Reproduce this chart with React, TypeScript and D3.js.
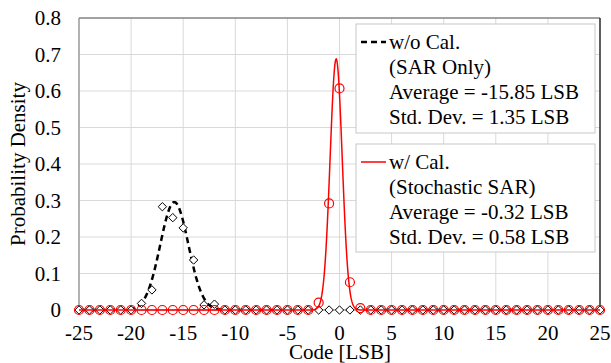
import React from "react";
import * as d3 from "d3";

const codes: number[] = d3.range(-25, 26);
const woCalPoints: number[] = [
  0, 0, 0, 0, 0, 0, 0.018, 0.055, 0.283, 0.253, 0.225, 0.137, 0.014, 0.016, 0, 0,
  0, 0, 0, 0, 0, 0, 0, 0, 0, 0, 0, 0, 0, 0, 0, 0, 0, 0, 0, 0, 0, 0, 0, 0, 0, 0, 0, 0, 0, 0, 0, 0, 0, 0, 0,
];
const wCalPoints: number[] = [
  0, 0, 0, 0, 0, 0, 0, 0, 0, 0, 0, 0, 0, 0, 0, 0, 0, 0, 0, 0, 0, 0, 0,
  0.02, 0.292, 0.607, 0.076, 0.005,
  0, 0, 0, 0, 0, 0, 0, 0, 0, 0, 0, 0, 0, 0, 0, 0, 0, 0, 0, 0, 0, 0, 0,
];
// Gaussian fit parameters (from legend)
const woCalMean = -15.85;
const woCalStd = 1.35;
const wCalMean = -0.32;
const wCalStd = 0.58;

const xTicks: number[] = [-25, -20, -15, -10, -5, 0, 5, 10, 15, 20, 25];
const yTicks: number[] = [0, 0.1, 0.2, 0.3, 0.4, 0.5, 0.6, 0.7, 0.8];
const legend1: string[] = ["w/o Cal.", "(SAR Only)", "Average = -15.85 LSB", "Std. Dev. = 1.35 LSB"];
const legend2: string[] = ["w/ Cal.", "(Stochastic SAR)", "Average = -0.32 LSB", "Std. Dev. = 0.58 LSB"];

const W = 611, H = 363;
const L = 79, R = 600, T = 18, B = 310;
const FONT = "Liberation Serif, Times New Roman, serif";

function gauss(x: number, m: number, s: number) {
  return Math.exp(-0.5 * ((x - m) / s) ** 2) / (s * Math.sqrt(2 * Math.PI));
}

export default function App() {
  const x = d3.scaleLinear().domain([-25, 25]).range([L, R]);
  const y = d3.scaleLinear().domain([0, 0.8]).range([B, T]);
  const fine = d3.range(-25, 25.001, 0.05);
  const line = d3.line<[number, number]>().x((d) => x(d[0])).y((d) => y(d[1]));
  const woCurve = line(fine.map((c) => [c, gauss(c, woCalMean, woCalStd)] as [number, number])) || "";
  const wCurve = line(fine.map((c) => [c, gauss(c, wCalMean, wCalStd)] as [number, number])) || "";
  const fs = 21;
  const ts: React.CSSProperties = { fontFamily: FONT, fontSize: fs };

  const legendBox = (y0: number, y1: number, lines: string[], red: boolean) => (
    <g>
      <rect x={356} y={y0} width={239} height={y1 - y0} fill="#fff" stroke="#c8c8c8" strokeWidth={1} />
      {red ? (
        <line x1={361} x2={386} y1={y0 + 18} y2={y0 + 18} stroke="#ff0000" strokeWidth={1.5} />
      ) : (
        <line x1={361} x2={386} y1={y0 + 18} y2={y0 + 18} stroke="#000" strokeWidth={2.5} strokeDasharray="6,4" />
      )}
      {lines.map((t, i) => (
        <text key={i} x={389} y={y0 + 18 + i * 25} dy="0.35em" style={ts} fill="#000">
          {t}
        </text>
      ))}
    </g>
  );

  return (
    <svg width={W} height={H} style={{ position: "absolute", left: 0, top: 0, background: "#fff" }}>
      <rect x={0} y={0} width={W} height={H} fill="#fff" />
      {xTicks.map((t) => (
        <line key={"gx" + t} x1={x(t)} x2={x(t)} y1={T} y2={B} stroke="#d9d9d9" strokeWidth={1} />
      ))}
      {yTicks.map((t) => (
        <line key={"gy" + t} x1={L} x2={R} y1={y(t)} y2={y(t)} stroke="#d9d9d9" strokeWidth={1} />
      ))}
      <line x1={L} x2={R} y1={T} y2={T} stroke="#595959" strokeWidth={1.2} />
      <line x1={R} x2={R} y1={T} y2={B} stroke="#000" strokeWidth={1.2} />
      <line x1={L} x2={L} y1={T} y2={B} stroke="#8c8c8c" strokeWidth={1.2} />
      <line x1={L} x2={R} y1={B} y2={B} stroke="#8c8c8c" strokeWidth={1} />
      {yTicks.map((t) => (
        <text key={"ty" + t} x={61} y={y(t)} dy="0.35em" textAnchor="end" style={ts}>
          {t === 0 ? "0" : t.toFixed(1)}
        </text>
      ))}
      {xTicks.map((t) => (
        <text key={"tx" + t} x={x(t)} y={333} dy="0.35em" textAnchor="middle" style={ts}>
          {t}
        </text>
      ))}
      <text x={340} y={352} dy="0.35em" textAnchor="middle" style={ts}>
        Code [LSB]
      </text>
      <text transform={`translate(18,${(T + B) / 2}) rotate(-90)`} dy="0.35em" textAnchor="middle" style={ts}>
        Probability Density
      </text>
      <path d={woCurve} fill="none" stroke="#000" strokeWidth={2.5} strokeDasharray="6,4" />
      {codes.map((c, i) => {
        const cx = x(c), cy = y(woCalPoints[i]);
        const r = 4.2;
        return (
          <path
            key={"d" + c}
            d={`M${cx},${cy - r}L${cx + r},${cy}L${cx},${cy + r}L${cx - r},${cy}Z`}
            fill="#fff"
            stroke="#000"
            strokeWidth={1}
          />
        );
      })}
      <path d={wCurve} fill="none" stroke="#ff0000" strokeWidth={1.5} />
      {codes.map((c, i) => (
        <circle key={"c" + c} cx={x(c)} cy={y(wCalPoints[i])} r={4.5} fill="none" stroke="#ff0000" strokeWidth={1.2} />
      ))}
      {legendBox(24, 133, legend1, false)}
      {legendBox(144, 252, legend2, true)}
    </svg>
  );
}
